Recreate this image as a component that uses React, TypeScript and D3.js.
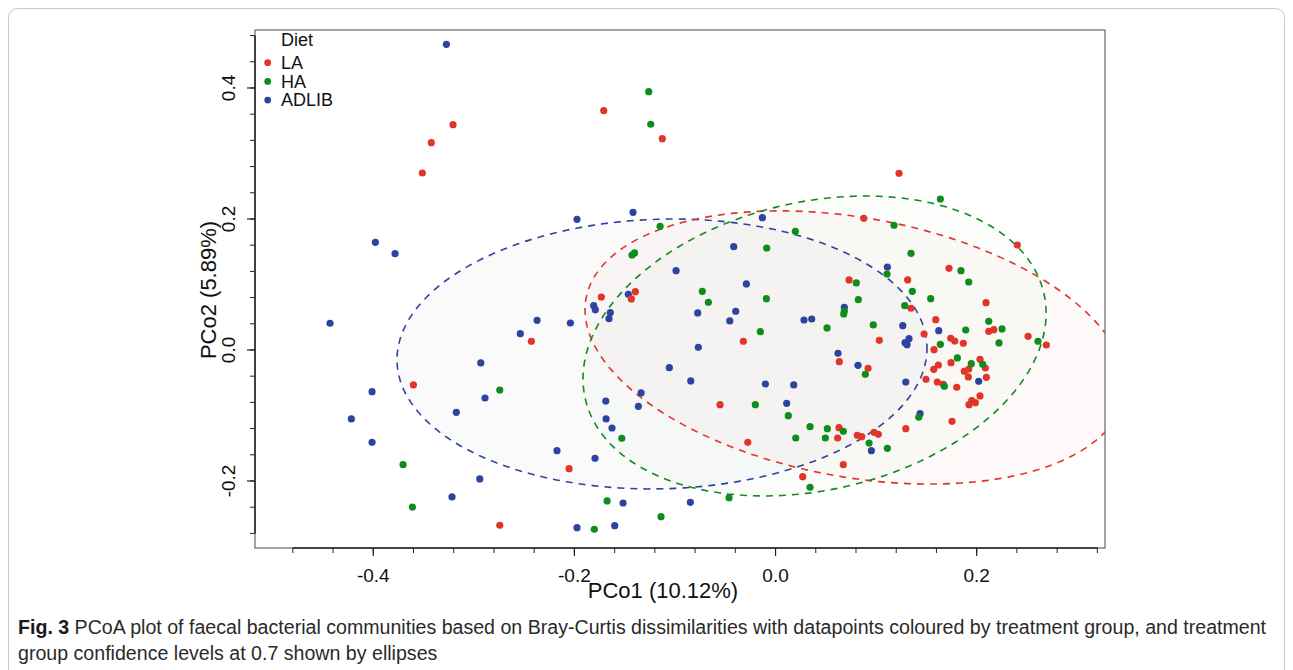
import React from "react";
import * as d3 from "d3";

// ---------- data (PCo1, PCo2) ----------
const groups = ["LA", "HA", "ADLIB"];
const groupColors = ["#E2352A", "#0E8C1C", "#2C44A0"];

const LA: [number, number][] = [
  [-0.3207, 0.344], [-0.3423, 0.3165], [-0.3512, 0.2702], [-0.1708, 0.3653], [-0.1126, 0.3226],
  [0.1228, 0.2698], [-0.3601, -0.0534], [-0.1732, 0.0809], [-0.1394, 0.089], [-0.1434, 0.0779],
  [-0.2428, 0.0133], [0.0877, 0.2011], [0.0731, 0.1069], [-0.032, 0.0133], [0.1032, 0.0148],
  [0.0634, -0.0179], [0.092, -0.0279], [0.2404, 0.1603], [0.1725, 0.1247], [0.1314, 0.1069],
  [0.2093, 0.0722], [0.1347, 0.0637], [0.1593, 0.0463], [0.212, 0.0285], [0.217, 0.031],
  [0.1477, 0.0244], [0.1742, 0.0179], [0.1782, 0.0137], [0.1867, 0.0102], [0.2511, 0.0209],
  [0.2693, 0.0076], [0.1576, 0.0005], [0.2033, -0.0142], [0.1745, -0.0194], [0.1619, -0.0229],
  [0.2086, -0.0275], [0.1573, -0.0295], [0.1921, -0.029], [0.1877, -0.0325], [0.1917, -0.0412],
  [0.2096, -0.0417], [0.1496, -0.0447], [0.1609, -0.0489], [0.1668, -0.0524], [0.1802, -0.0569],
  [0.2033, -0.0702], [0.1951, -0.0774], [0.1987, -0.0805], [0.1924, -0.0835], [0.1755, -0.1089],
  [0.1295, -0.1202], [-0.0552, -0.0835], [0.0631, -0.1186], [0.0618, -0.1344], [0.0813, -0.1302],
  [0.0857, -0.1324], [0.0979, -0.1256], [0.1022, -0.1287], [-0.0276, -0.1409], [0.0674, -0.1751],
  [0.027, -0.1934], [-0.2053, -0.1812], [-0.2742, -0.2676],
];

const HA: [number, number][] = [
  [-0.1261, 0.3944], [-0.1241, 0.3446], [0.1639, 0.2305], [-0.1148, 0.1889], [-0.1427, 0.145],
  [-0.1402, 0.1481], [0.0197, 0.1812], [0.1178, 0.1904], [-0.0088, 0.1557], [0.1109, 0.116],
  [0.0803, 0.1023], [-0.0728, 0.0896], [-0.0668, 0.0728], [-0.0091, 0.0783], [0.0823, 0.0768],
  [0.0684, 0.0595], [0.0678, 0.055], [0.0512, 0.0336], [0.0972, 0.0382], [-0.0151, 0.0279],
  [0.0893, -0.0371], [0.1347, 0.1476], [0.1844, 0.1211], [0.1921, 0.1038], [0.136, 0.0896],
  [0.1543, 0.0783], [0.1285, 0.0676], [0.212, 0.0438], [0.1891, 0.0305], [0.2252, 0.0321],
  [0.1639, 0.0087], [0.2222, 0.0107], [0.261, 0.0133], [0.1808, -0.0122], [0.1947, -0.0209],
  [0.206, -0.0218], [0.1678, -0.0554], [0.1424, -0.1027], [-0.0201, -0.0835], [0.0127, -0.1003],
  [0.0343, -0.1171], [0.0515, -0.1202], [0.0674, -0.1241], [0.0201, -0.1344], [0.0495, -0.1344],
  [0.093, -0.142], [0.1112, -0.1501], [0.0343, -0.2096], [-0.0462, -0.2255], [-0.2742, -0.0611],
  [-0.1529, -0.1348], [-0.1675, -0.2305], [-0.1139, -0.2545], [-0.1802, -0.2737], [-0.3704, -0.1751],
  [-0.3611, -0.2397],
];

const ADLIB: [number, number][] = [
  [-0.3273, 0.4667], [-0.3979, 0.1644], [-0.3783, 0.147], [-0.443, 0.0408], [-0.1974, 0.1995],
  [-0.1417, 0.2102], [-0.0989, 0.1211], [-0.1464, 0.085], [-0.1808, 0.0676], [-0.1792, 0.0615],
  [-0.1643, 0.0569], [-0.1656, 0.0478], [-0.2371, 0.0453], [-0.204, 0.0412], [-0.2538, 0.0249],
  [-0.2931, -0.0198], [-0.1056, -0.027], [-0.0131, 0.202], [-0.0416, 0.1577], [0.1112, 0.1267],
  [-0.029, 0.1008], [0.0684, 0.0652], [-0.0774, 0.0565], [-0.0396, 0.0591], [-0.0455, 0.0443],
  [0.0283, 0.0458], [0.036, 0.0473], [-0.0768, 0.0041], [0.0621, -0.005], [0.082, -0.0234],
  [-0.0843, -0.0473], [-0.0101, -0.0519], [0.0181, -0.0534], [0.1265, 0.0371], [0.1623, 0.0295],
  [0.1327, 0.0173], [0.1288, 0.0111], [0.1308, 0.0081], [0.202, -0.0478], [0.1295, -0.0489],
  [0.1437, -0.0973], [0.0111, -0.0814], [0.0953, -0.1537], [-0.0847, -0.2325], [-0.2889, -0.0733],
  [-0.1337, -0.0656], [-0.1688, -0.0779], [-0.1364, -0.086], [-0.1685, -0.1053], [-0.1626, -0.1191],
  [-0.2173, -0.1537], [-0.1795, -0.1653], [-0.2941, -0.1969], [-0.1516, -0.2336], [-0.1974, -0.2713],
  [-0.1599, -0.2682], [-0.4012, -0.0637], [-0.3174, -0.0951], [-0.4218, -0.1053], [-0.4012, -0.1409],
  [-0.3217, -0.2244],
];

// ellipse: centre, conjugate semi-axis vectors (data units)
const ellipseCentres: [number, number][] = [[0.079, 0.0038], [0.0388, 0.0061], [-0.1129, -0.0061]];
const ellipseAxis1: [number, number][] = [[0.2675, -0.0747], [0.228, 0.0808], [0.2635, 0.0117]];
const ellipseAxis2: [number, number][] = [[-0.023, -0.1947], [0.0322, -0.2142], [0.0039, -0.2057]];

const xTicksMajor = [-0.4, -0.2, 0.0, 0.2];
const yTicksMajor = [-0.2, 0.0, 0.2, 0.4];
const xMinor = d3.range(-0.48, 0.3201, 0.04);
const yMinor = d3.range(-0.28, 0.4801, 0.04);

const xLabel = "PCo1 (10.12%)";
const yLabel = "PCo2 (5.89%)";
const legendTitle = "Diet";
const captionBold = "Fig. 3";
const captionLine1 = " PCoA plot of faecal bacterial communities based on Bray-Curtis dissimilarities with datapoints coloured by treatment group, and treatment";
const captionLine2 = "group confidence levels at 0.7 shown by ellipses";

const W = 1293, H = 670;
const L = 255, R = 1105, T = 30, B = 548;

export default function App() {
  const x = d3.scaleLinear().domain([-0.5176, 0.3276]).range([L, R]);
  const y = d3.scaleLinear().domain([-0.3023, 0.4885]).range([B, T]);
  const font = "'Liberation Sans', Arial, Helvetica, sans-serif";
  const series = [LA, HA, ADLIB];
  const drawOrder = [2, 0, 1];

  const ellipsePath = (i: number) => {
    const c = ellipseCentres[i], a = ellipseAxis1[i], b = ellipseAxis2[i];
    const pts: [number, number][] = d3.range(0, 361, 2).map((deg) => {
      const t = (deg * Math.PI) / 180;
      return [x(c[0] + Math.cos(t) * a[0] + Math.sin(t) * b[0]), y(c[1] + Math.cos(t) * a[1] + Math.sin(t) * b[1])];
    });
    return d3.line()(pts) + "Z";
  };

  const fills = ["#e8a0a0", "#9ad0a0", "#a0a0b8"];

  return (
    <svg width={W} height={H} style={{ position: "absolute", left: 0, top: 0, background: "#fff" }} fontFamily={font}>
      <rect x={8.5} y={8.5} width={1276} height={700} rx={9} fill="none" stroke="#c8c8c8" strokeWidth={1} />
      <defs>
        <clipPath id="plotclip">
          <rect x={L} y={T} width={R - L} height={B - T} />
        </clipPath>
      </defs>
      <g clipPath="url(#plotclip)">
        {[2, 0, 1].map((i) => (
          <path key={"f" + i} d={ellipsePath(i)} fill={fills[i]} fillOpacity={0.05} stroke="none" />
        ))}
        {[2, 0, 1].map((i) => (
          <path key={"e" + i} d={ellipsePath(i)} fill="none" stroke={groupColors[i]} strokeWidth={1.6} strokeDasharray="7,6" />
        ))}
        {drawOrder.map((gi) =>
          series[gi].map((p, j) => (
            <circle key={gi + "-" + j} cx={x(p[0])} cy={y(p[1])} r={3.6} fill={groupColors[gi]} />
          ))
        )}
      </g>
      {/* box */}
      <rect x={L} y={T} width={R - L} height={B - T} fill="none" stroke="#666" strokeWidth={1.2} />
      {/* x axis */}
      <line x1={x(-0.48)} x2={x(0.32)} y1={B} y2={B} stroke="#222" strokeWidth={1.5} />
      {xMinor.map((v, i) => (
        <line key={"xm" + i} x1={x(v)} x2={x(v)} y1={B} y2={B + 5} stroke="#222" strokeWidth={1} />
      ))}
      {xTicksMajor.map((v, i) => (
        <g key={"xt" + i}>
          <line x1={x(v)} x2={x(v)} y1={B} y2={B + 8} stroke="#222" strokeWidth={1.2} />
          <text x={x(v)} y={582} textAnchor="middle" fontSize={19} fill="#111">{v.toFixed(1)}</text>
        </g>
      ))}
      <text x={663} y={598} textAnchor="middle" fontSize={22} fill="#111">{xLabel}</text>
      {/* y axis */}
      <line x1={L} x2={L} y1={y(-0.28)} y2={y(0.48)} stroke="#222" strokeWidth={1.5} />
      {yMinor.map((v, i) => (
        <line key={"ym" + i} x1={L} x2={L - 5} y1={y(v)} y2={y(v)} stroke="#222" strokeWidth={1} />
      ))}
      {yTicksMajor.map((v, i) => (
        <g key={"yt" + i}>
          <line x1={L} x2={L - 8} y1={y(v)} y2={y(v)} stroke="#222" strokeWidth={1.2} />
          <text transform={`translate(235,${y(v)}) rotate(-90)`} textAnchor="middle" fontSize={19} fill="#111">{v.toFixed(1)}</text>
        </g>
      ))}
      <text transform={`translate(216,290) rotate(-90)`} textAnchor="middle" fontSize={22} fill="#111">{yLabel}</text>
      {/* legend */}
      <text x={281} y={46} fontSize={18} fill="#111">{legendTitle}</text>
      {groups.map((g, i) => (
        <g key={g}>
          <circle cx={267.7} cy={62.7 + i * 18.7} r={3.4} fill={groupColors[i]} />
          <text x={281} y={62.7 + i * 18.7 + 6.3} fontSize={18} fill="#111">{g}</text>
        </g>
      ))}
      {/* caption */}
      <text x={18} y={634} fontSize={19.6} fill="#2a2a2a">
        <tspan fontWeight="bold" fill="#1a1a1a">{captionBold}</tspan>
        <tspan>{captionLine1}</tspan>
      </text>
      <text x={18} y={660} fontSize={19.6} fill="#2a2a2a">{captionLine2}</text>
    </svg>
  );
}
